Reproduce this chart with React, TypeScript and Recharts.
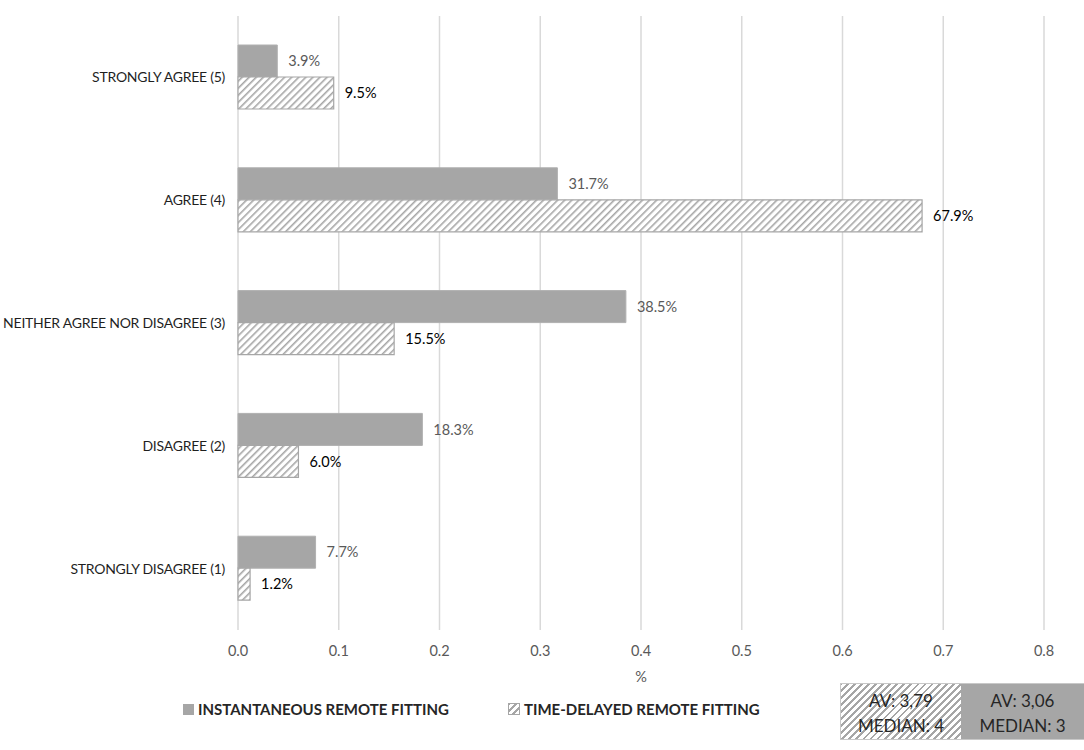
import React from "react";
import { BarChart, Bar, XAxis, YAxis, CartesianGrid, LabelList, Label } from "recharts";

const categories = [
  "STRONGLY AGREE (5)",
  "AGREE (4)",
  "NEITHER AGREE NOR DISAGREE (3)",
  "DISAGREE (2)",
  "STRONGLY DISAGREE (1)",
];
const instantaneous = [0.039, 0.317, 0.385, 0.183, 0.077];
const timeDelayed = [0.095, 0.679, 0.155, 0.06, 0.012];
const xTicks = [0, 0.1, 0.2, 0.3, 0.4, 0.5, 0.6, 0.7, 0.8];
const seriesNames = ["INSTANTANEOUS REMOTE FITTING", "TIME-DELAYED REMOTE FITTING"];
const summaryDelayed = ["AV: 3,79", "MEDIAN: 4"];
const summaryInstant = ["AV: 3,06", "MEDIAN: 3"];

const data = categories.map((c, i) => ({
  category: c,
  instantaneous: instantaneous[i],
  timeDelayed: timeDelayed[i],
}));

const FONT = "Lato, 'Open Sans', 'Liberation Sans', sans-serif";
const GRAY = "#a6a6a6";
const hatchCss =
  "repeating-linear-gradient(-45deg, #ffffff 0px, #ffffff 3px, #a6a6a6 3px, #a6a6a6 5px)";

const fmtPct = (v: any) => `${(Number(v) * 100).toFixed(1)}%`;

const CategoryTick = (props: any) => {
  const { y, payload } = props;
  return (
    <text x={225} y={y} dy={5} textAnchor="end" fill="#1f1f1f" fontSize={14} letterSpacing={-0.25} fontFamily={FONT}>
      {payload.value}
    </text>
  );
};

export default function App() {
  return (
    <div style={{ position: "absolute", left: 0, top: 0, width: 1084, height: 750, background: "#fff", fontFamily: FONT }}>
      <BarChart
        width={1084}
        height={750}
        data={data}
        layout="vertical"
        margin={{ top: 16, right: 40, bottom: 60, left: 0 }}
        barGap={0}
        barSize={32}
      >
        <defs>
          <pattern id="hatch" patternUnits="userSpaceOnUse" width="5" height="5" patternTransform="rotate(45)">
            <rect width="5" height="5" fill="#ffffff" />
            <line x1="0" y1="0" x2="0" y2="5" stroke={GRAY} strokeWidth="3.2" />
          </pattern>
        </defs>
        <CartesianGrid horizontal={false} stroke="#d9d9d9" strokeWidth={1.5} />
        <XAxis
          type="number"
          domain={[0, 0.8]}
          ticks={xTicks}
          tickFormatter={(v: number) => v.toFixed(1)}
          axisLine={false}
          tickLine={false}
          height={60}
          tick={{ fill: "#595959", fontSize: 14.5, fontFamily: FONT }}
          tickMargin={10}
        >
          <Label value="%" position="insideBottom" offset={8} style={{ fill: "#595959", fontSize: 14.5, fontFamily: FONT }} />
        </XAxis>
        <YAxis
          type="category"
          dataKey="category"
          width={238}
          axisLine={false}
          tickLine={false}
          tick={<CategoryTick />}
          tickMargin={8}
        />
        <Bar dataKey="instantaneous" fill={GRAY} stroke="#b0b0b0" strokeWidth={1} isAnimationActive={false}>
          <LabelList dataKey="instantaneous" position="right" offset={11} formatter={fmtPct} style={{ fill: "#595959", fontSize: 14.5, fontFamily: FONT }} />
        </Bar>
        <Bar dataKey="timeDelayed" fill="url(#hatch)" stroke={GRAY} strokeWidth={1.2} isAnimationActive={false}>
          <LabelList dataKey="timeDelayed" position="right" offset={11} formatter={fmtPct} style={{ fill: "#000000", fontSize: 14.5, fontFamily: FONT }} />
        </Bar>
      </BarChart>

      <div style={{ position: "absolute", left: 183, top: 700, display: "flex", alignItems: "center", fontSize: 15, fontWeight: 700, color: "#262626" }}>
        <span style={{ display: "inline-block", width: 11, height: 11, background: GRAY, marginRight: 4 }} />
        <span>{seriesNames[0]}</span>
      </div>
      <div style={{ position: "absolute", left: 508, top: 700, display: "flex", alignItems: "center", fontSize: 15, fontWeight: 700, color: "#262626" }}>
        <span style={{ display: "inline-block", width: 10, height: 10, background: hatchCss, border: `1px solid ${GRAY}`, marginRight: 4 }} />
        <span>{seriesNames[1]}</span>
      </div>

      <div style={{ position: "absolute", left: 840, top: 683, width: 244, height: 57, display: "flex", borderTop: "1px solid #c8c8c8", borderBottom: "1px solid #c8c8c8", borderLeft: "1px solid #c8c8c8", boxSizing: "border-box" }}>
        <div style={{ width: 120, height: "100%", background: hatchCss, display: "flex", flexDirection: "column", justifyContent: "center", alignItems: "center", fontSize: 17, color: "#262626", lineHeight: "25px", paddingTop: 3, boxSizing: "border-box" }}>
          <span>{summaryDelayed[0]}</span>
          <span>{summaryDelayed[1]}</span>
        </div>
        <div style={{ flex: 1, height: "100%", background: GRAY, display: "flex", flexDirection: "column", justifyContent: "center", alignItems: "center", fontSize: 17, color: "#262626", lineHeight: "25px", paddingTop: 3, boxSizing: "border-box" }}>
          <span>{summaryInstant[0]}</span>
          <span>{summaryInstant[1]}</span>
        </div>
      </div>
    </div>
  );
}
